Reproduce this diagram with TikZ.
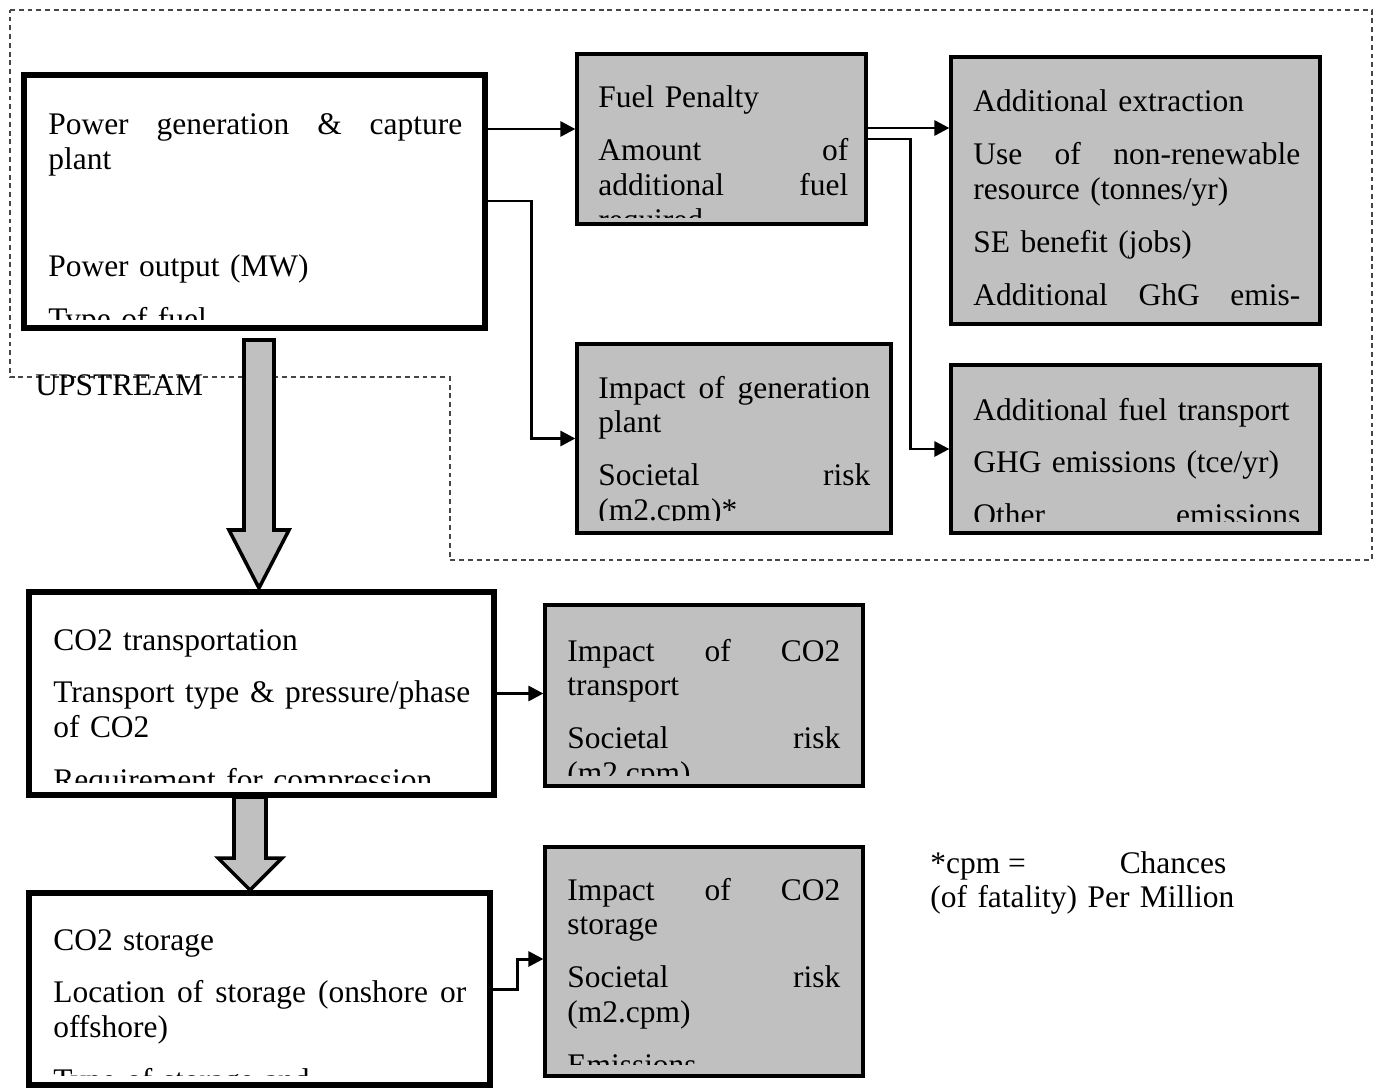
\documentclass[tikz,border=0pt]{standalone}
\usepackage{fontspec}
\setmainfont{Liberation Serif}
\usepackage{tikz}
\usetikzlibrary{arrows.meta}
\usetikzlibrary{calc}
\definecolor{boxgray}{RGB}{192,192,192}
\definecolor{regiongray}{RGB}{70,70,70}
\newcommand{\tw}{6cm}
\newcommand{\jl}[2][\tw]{\leavevmode\hbox to #1{\spaceskip=0.25em plus 1fil\relax #2}}
\newcommand{\pg}{\\[10.2pt]}
\newcommand{\boxtext}[6]{%
	\begin{scope}
		\def\tw{#2}
		\clip (#1.north west) rectangle (#1.east |- 0,#5);
		\node[boxtxt, text width=#2] at (#3,#4) {#6};
	\end{scope}}
\tikzset{
	stage/.style={draw, line width=3.4pt, fill=white, inner sep=0pt},
	impact/.style={draw, line width=1.9pt, fill=boxgray, inner sep=0pt},
	boxtxt/.style={anchor=base west, inner sep=0pt, align=left, font=\fontsize{17.9pt}{19.85pt}\selectfont},
	link/.style={line width=1.7pt, -{Triangle[length=8.5pt,width=8.5pt]}},
	bigarrow/.style={draw, line width=2pt, fill=boxgray, line join=miter},
	region/.style={draw=regiongray, line width=0.6pt, dash pattern=on 2.8pt off 2.2pt}
}
\begin{document}
\begin{tikzpicture}[x=0.02cm, y=-0.02cm]
	\useasboundingbox (0,0) rectangle (1381,1091);
	\draw[region] (10,10) -- (1372,10) -- (1372,560) -- (450,560) -- (450,377) -- (10,377) -- cycle;
	\node[font=\fontsize{17.9pt}{19.85pt}\selectfont, anchor=base west, inner sep=0pt] (upstream) at (35,395) {UPSTREAM};

	% upstream part
	\node[stage, minimum width=9.22cm, minimum height=5.06cm] (power) at (254.5,201.5) {};
	\node[impact, minimum width=5.78cm, minimum height=3.4cm] (fuel) at (721.5,139) {};
	\node[impact, minimum width=7.38cm, minimum height=5.34cm] (extract) at (1135.5,190.5) {};
	\node[impact, minimum width=6.28cm, minimum height=3.78cm] (impgen) at (734,438.5) {};
	\node[impact, minimum width=7.38cm, minimum height=3.36cm] (fueltr) at (1135.5,449) {};

	\boxtext{power}{8.28cm}{48}{135}{319}{\jl{Power generation \& capture}\\ plant\\[40.8pt] Power output (MW)\pg Type of fuel}
	\boxtext{fuel}{5.0cm}{598}{108}{217}{Fuel Penalty\pg \jl{Amount of}\\ \jl{additional fuel}\\ required}
	\boxtext{extract}{6.54cm}{973}{112}{316}{Additional extraction\pg \jl{Use of non-renewable}\\ resource (tonnes/yr)\pg SE benefit (jobs)\pg \jl{Additional GhG emis-}}
	\boxtext{impgen}{5.44cm}{598}{398}{520}{\jl{Impact of generation}\\ plant\pg \jl{Societal risk}\\ (m2.cpm)*}
	\boxtext{fueltr}{6.54cm}{973}{420}{521}{Additional fuel transport\pg GHG emissions (tce/yr)\pg \jl{Other emissions}}

	% capture chain
	\node[stage, minimum width=9.3cm, minimum height=4.06cm] (transp) at (261.5,693.5) {};
	\node[impact, minimum width=6.36cm, minimum height=3.62cm] (imptr) at (704,695.5) {};
	\node[stage, minimum width=9.22cm, minimum height=3.84cm] (storage) at (259.5,989) {};
	\node[impact, minimum width=6.36cm, minimum height=4.58cm] (impst) at (704,961.5) {};

	\boxtext{transp}{8.34cm}{53}{650}{782}{CO2 transportation\pg \jl{Transport type \& pressure/phase}\\ of CO2\pg Requirement for compression}
	\boxtext{imptr}{5.46cm}{567}{661}{775}{\jl{Impact of CO2}\\ transport\pg \jl{Societal risk}\\ (m2.cpm)}
	\boxtext{storage}{8.26cm}{53}{950}{1075}{CO2 storage\pg \jl{Location of storage (onshore or}\\ offshore)\pg Type of storage and}
	\boxtext{impst}{5.46cm}{567}{900}{1064}{\jl{Impact of CO2}\\ storage\pg \jl{Societal risk}\\ (m2.cpm)\pg Emissions}

	% connectors
	\draw[link] (power.east |- 0,129) -- (fuel.west |- 0,129);
	\draw[link] (power.east |- 0,201) -- (531,201) |- (impgen.west);
	\draw[link] (fuel.east |- 0,128) -- (extract.west |- 0,128);
	\draw[link] (fuel.east |- 0,139) -- (910,139) |- (fueltr.west);
	\draw[link] (transp.east) -- (imptr.west |- transp.east);
	\draw[link] (storage.east |- 0,989) -- (517,989) |- (impst.west |- 0,959);

	\draw[bigarrow] (244,340) -- (274,340) -- (274,530) -- (289,530) -- (259,588) -- (229,530) -- (244,530) -- cycle;
	\draw[bigarrow] (234,797) -- (266,797) -- (266,858) -- (282,858) -- (250,890) -- (218,858) -- (234,858) -- cycle;

	\node[boxtxt, text width=6.2cm] (note) at (930,873) {\jl[5.92cm]{*cpm\hspace{0.25em}= Chances}\\ (of fatality) Per Million};
\end{tikzpicture}
\end{document}
